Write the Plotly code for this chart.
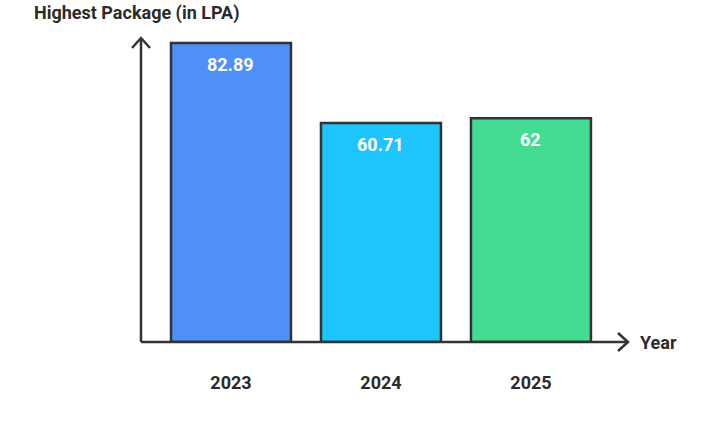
import plotly.graph_objects as go

years = ["2023", "2024", "2025"]
packages = [82.89, 60.71, 62]
labels = ["82.89", "60.71", "62"]
colors = ["#4F8FF8", "#1DC5FC", "#44DC93"]

y_title = "Highest Package (in LPA)"
x_title = "Year"

ink = "#333333"
font_family = "Roboto, Arial, sans-serif"

xs = list(range(len(years)))

fig = go.Figure()
fig.add_trace(go.Bar(
    x=xs, y=packages, width=0.8,
    marker=dict(color=colors, line=dict(color=ink, width=2.5)),
    hoverinfo="skip",
))

# value labels inside the bars
for xi, v, t in zip(xs, packages, labels):
    fig.add_annotation(x=xi, y=v, text=f"<b>{t}</b>", showarrow=False,
                       yanchor="middle", yshift=-21,
                       font=dict(family=font_family, size=18, color="white"))

xmin, xmax = -0.6, 2.647
ymax = 84.28

W, H = 710, 424
ml, mr, mt, mb = 141, 82, 38, 82
pw, ph = W - ml - mr, H - mt - mb

# axes lines (drawn as shapes so they can end in arrows)
fig.add_shape(type="line", xref="paper", yref="paper", x0=0, y0=0, x1=0, y1=1,
              line=dict(color=ink, width=2.5))
fig.add_shape(type="line", xref="paper", yref="paper", x0=0, y0=0, x1=1, y1=0,
              line=dict(color=ink, width=2.5))
# y arrow head
fig.add_shape(type="path", xref="paper", yref="paper",
              path=f"M {-9/pw} {1-10/ph} L 0 1 L {9/pw} {1-10/ph}",
              line=dict(color=ink, width=2.5))
# x arrow head
fig.add_shape(type="path", xref="paper", yref="paper",
              path=f"M {1-10/pw} {9/ph} L 1 0 L {1-10/pw} {-9/ph}",
              line=dict(color=ink, width=2.5))

fig.add_annotation(xref="paper", yref="paper", x=-109/pw, y=1 + 25/ph,
                   xanchor="left", yanchor="middle", showarrow=False,
                   text=f"<b>{y_title}</b>",
                   font=dict(family=font_family, size=18, color="#2B2B2B"))
fig.add_annotation(xref="paper", yref="paper", x=1 + 10/pw, y=0,
                   xanchor="left", yanchor="middle", showarrow=False,
                   text=f"<b>{x_title}</b>",
                   font=dict(family=font_family, size=18, color="#2B2B2B"))

fig.update_layout(
    width=W, height=H,
    margin=dict(l=ml, r=mr, t=mt, b=mb, pad=0),
    paper_bgcolor="white", plot_bgcolor="white",
    showlegend=False,
    xaxis=dict(range=[xmin, xmax], tickvals=xs, ticktext=[f"<b>{y}</b>" for y in years],
               showgrid=False, zeroline=False, showline=False, ticks="",
               ticklabelstandoff=28,
               tickfont=dict(family=font_family, size=18, color="#2B2B2B")),
    yaxis=dict(range=[0, ymax], showgrid=False, zeroline=False, showline=False,
               showticklabels=False, ticks=""),
)

fig.write_html("out.html")
